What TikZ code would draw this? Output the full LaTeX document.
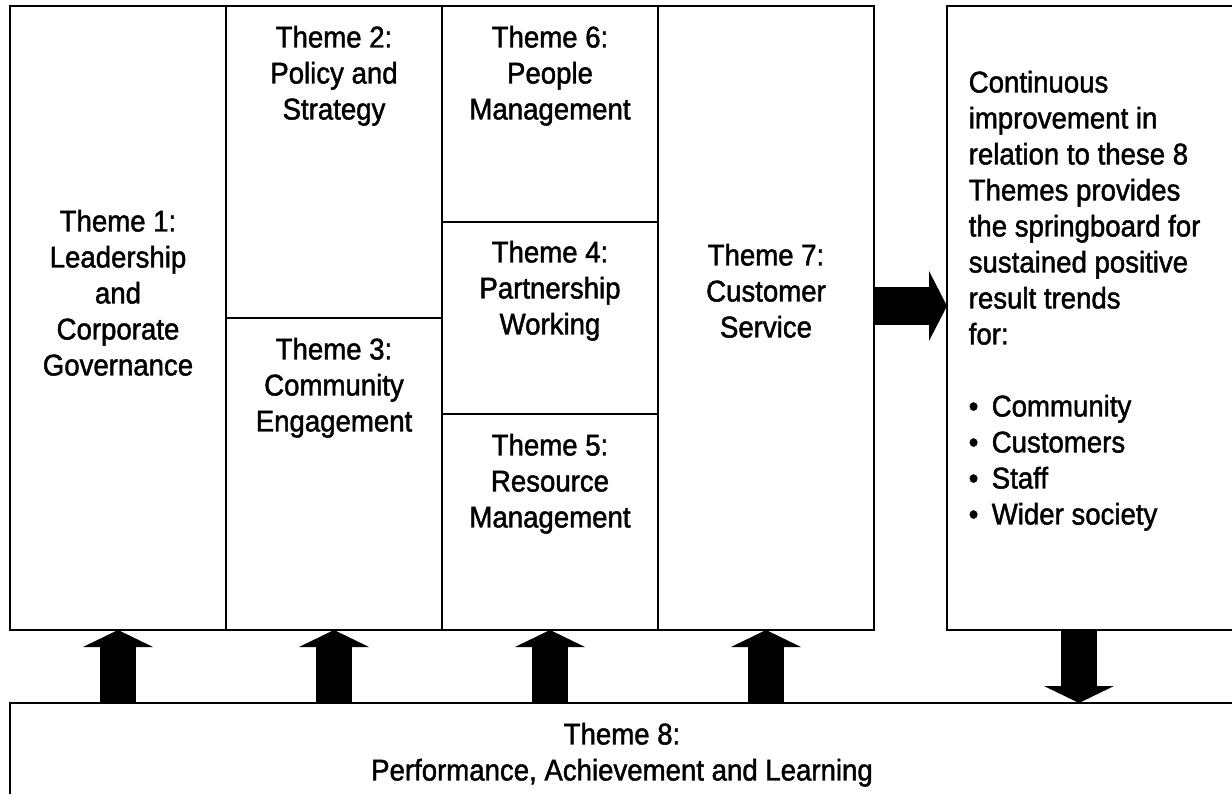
\documentclass[tikz,border=0pt]{standalone}
\usepackage{fontspec}
\setmainfont[FakeStretch=0.92, FakeBold=1.5]{Liberation Sans}
\usetikzlibrary{positioning,arrows.meta}

\begin{document}
\begin{tikzpicture}[x=1pt, y=-1pt, line width=1.5pt]
\tikzset{box/.style = {draw, rectangle, outer sep=0pt, inner sep=0pt},
  theme/.style = {align=center, inner sep=0pt,
    font=\fontsize{30}{36}\selectfont},
  uparrow/.style = {line width=36pt,
    -{Triangle[length=17pt, width=70pt, line width=0pt]}},
  rarrow/.style = {line width=38pt,
    -{Triangle[length=18pt, width=70pt, line width=0pt]}}}
\useasboundingbox (0,0) rectangle (1232,794);

  % the seven themes
  \node[box, minimum width=216pt, minimum height=624pt, anchor=north west]
    (t1) at (10,6) {};
  \node[box, minimum width=216pt, minimum height=312pt, anchor=north west]
    (t2) at (t1.north east) {};
  \node[box, minimum width=216pt, minimum height=312pt, anchor=north west]
    (t3) at (t2.south west) {};
  \node[box, minimum width=216pt, minimum height=216pt, anchor=north west]
    (t6) at (t2.north east) {};
  \node[box, minimum width=216pt, minimum height=192pt, anchor=north west]
    (t4) at (t6.south west) {};
  \node[box, minimum width=216pt, minimum height=216pt, anchor=north west]
    (t5) at (t4.south west) {};
  \node[box, minimum width=216pt, minimum height=624pt, anchor=north west]
    (t7) at (t6.north east) {};

  % results and theme 8
  \node[box, minimum width=287pt, minimum height=624pt, anchor=north west]
    (results) at (947,6) {};
  \node[box, minimum width=1224pt, minimum height=100pt, anchor=north west]
    (t8) at (10,703) {};

  \node[theme, below=203pt of t1.north] (t1text)
    {Theme 1:\\Leadership\\and\\Corporate\\Governance};
  \node[theme, below=19pt of t2.north] (t2text)
    {Theme 2:\\Policy and\\Strategy};
  \node[theme, below=19pt of t3.north] (t3text)
    {Theme 3:\\Community\\Engagement};
  \node[theme, below=19pt of t6.north] (t6text)
    {Theme 6:\\People\\Management};
  \node[theme, below=18pt of t4.north] (t4text)
    {Theme 4:\\Partnership\\Working};
  \node[theme, below=19pt of t5.north] (t5text)
    {Theme 5:\\Resource\\Management};
  \node[theme, below=237pt of t7.north] (t7text)
    {Theme 7:\\Customer\\Service};
  \node[theme, below=19pt of t8.north] (t8text)
    {Theme 8:\\Performance, Achievement and Learning};

  \node[theme, align=left, below right=64pt and 21pt of results.north west]
    (resultstext)
    {Continuous\\improvement in\\relation to these 8\\Themes provides\\
     the springboard for\\sustained positive\\result trends\\for:\\[36pt]
     \makebox[23pt][l]{•}Community\\
     \makebox[23pt][l]{•}Customers\\
     \makebox[23pt][l]{•}Staff\\
     \makebox[23pt][l]{•}Wider society};

  % block arrows
  \draw[uparrow] (t1.south |- t8.north) -- (t1.south);
  \draw[uparrow] (t3.south |- t8.north) -- (t3.south);
  \draw[uparrow] (t5.south |- t8.north) -- (t5.south);
  \draw[uparrow] (t7.south |- t8.north) -- (t7.south);
  \draw[uparrow] ([xshift=132pt]results.south west)
    -- ([xshift=132pt]results.south west |- t8.north);
  \draw[rarrow] ([yshift=12pt]t7.east) -- ([yshift=12pt]results.west);

\end{tikzpicture}
\end{document}
